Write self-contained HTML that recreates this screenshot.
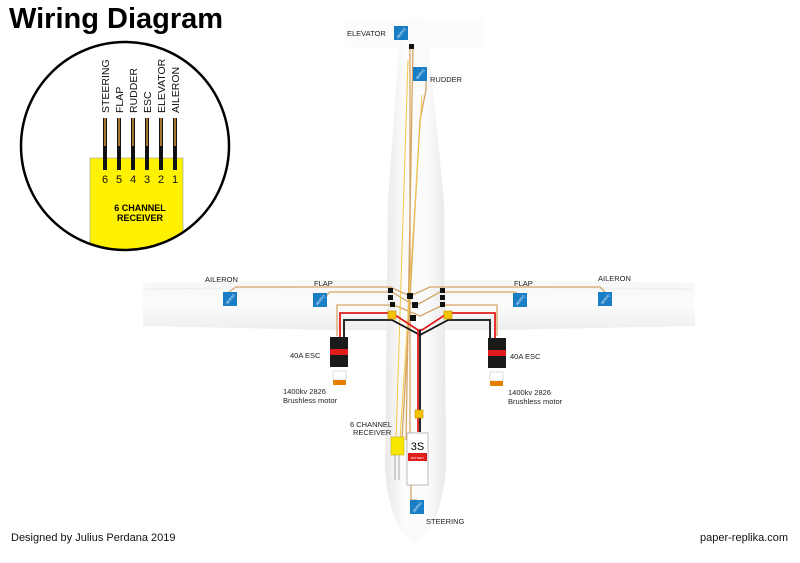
<!DOCTYPE html>
<html><head><meta charset="utf-8"><style>
html,body{margin:0;padding:0;background:#fff}
svg{display:block}
text{font-family:"Liberation Sans",sans-serif}
</style></head><body>
<svg width="800" height="563" viewBox="0 0 800 563" xmlns="http://www.w3.org/2000/svg">
<defs>
<linearGradient id="fus" x1="0" x2="1" y1="0" y2="0">
<stop offset="0" stop-color="#e9e9e9"/><stop offset="0.3" stop-color="#fbfbfb"/><stop offset="0.7" stop-color="#fbfbfb"/><stop offset="1" stop-color="#e9e9e9"/></linearGradient>
<linearGradient id="wing" x1="0" x2="0" y1="0" y2="1">
<stop offset="0" stop-color="#f6f6f6"/><stop offset="0.5" stop-color="#fcfcfc"/><stop offset="1" stop-color="#eeeeee"/></linearGradient>
<g id="servo"><rect x="-7" y="-7" width="14" height="14" fill="#1a7ec6"/><text x="0" y="1.5" font-size="3.5" fill="#fff" text-anchor="middle" transform="rotate(-50)">SERVO</text></g>
</defs>
<path d="M345 18 L485 18 L485 48 L345 48 Z" fill="#fcfcfc"/>
<path d="M143 283 L330 280 L500 280 L695 283 L695 326 L500 330 L330 330 L143 326 Z" fill="url(#wing)"/>
<line x1="145" y1="289" x2="330" y2="287" stroke="#eeeeee"/>
<line x1="500" y1="287" x2="693" y2="289" stroke="#eeeeee"/>
<path d="M410 18 Q400 18 398 60 L388 200 L385 470 Q390 530 415 545 Q440 530 446 470 L444 200 L430 60 Q428 18 418 18 Z" fill="url(#fus)"/>
<g fill="none" stroke="#d6a566" stroke-width="1.3">
<path d="M410 45 L410 440"/><path d="M413 45 L406 440"/>
<path d="M426 74 L426 90 L420 120 L402 440"/>
<path d="M229 292 L236 287 L390 287 L410 296 L430 287 L600 287 L605 292"/>
<path d="M326 296 L330 292 L392 292 L415 306 L440 292 L515 292 L520 296"/>
<path d="M337 336 L337 305 L394 305 L420 316 L443 305 L497 305 L497 336"/>
<path d="M411 455 L411 500 L417 500"/>
</g>
<g fill="none" stroke="#f0c84a" stroke-width="1">
<path d="M408 60 L396 440"/><path d="M422 95 L400 440"/>
</g>
<g fill="none" stroke="#aaa" stroke-width="1"><path d="M395 455 L395 480"/><path d="M399 455 L399 480"/></g>
<g fill="none" stroke-width="1.8">
<path d="M340 338 L340 313 L392 313 L418 330 L422 330 L448 313 L495 313 L495 338" stroke="#e01c1c"/>
<path d="M344 338 L344 320 L392 320 L420 335 L448 320 L490 320 L490 338" stroke="#111"/>
<path d="M420 330 L420 432" stroke="#111"/><path d="M418 330 L418 432" stroke="#e01c1c"/>
</g>
<g fill="#111">
<rect x="388" y="288" width="5" height="5"/><rect x="388" y="295" width="5" height="5"/><rect x="390" y="302" width="5" height="5"/>
<rect x="407" y="293" width="6" height="6"/><rect x="412" y="302" width="6" height="6"/><rect x="410" y="315" width="6" height="6"/>
<rect x="440" y="288" width="5" height="5"/><rect x="440" y="295" width="5" height="5"/><rect x="440" y="302" width="5" height="5"/>
<rect x="409" y="44" width="5" height="5"/>
</g>
<g fill="#f5c400" stroke="#c08a00" stroke-width="0.6">
<rect x="388" y="311" width="8" height="8"/><rect x="444" y="311" width="8" height="8"/><rect x="415" y="410" width="8" height="8"/>
</g>
<rect x="330" y="337" width="18" height="30" fill="#1a1a1a"/><rect x="330" y="349" width="18" height="6" fill="#e01c1c"/>
<rect x="488" y="338" width="18" height="30" fill="#1a1a1a"/><rect x="488" y="350" width="18" height="6" fill="#e01c1c"/>
<rect x="333" y="371" width="13" height="9" fill="#fff" stroke="#bbb" stroke-width="0.5"/><rect x="333" y="380" width="13" height="5" fill="#e67e00"/>
<rect x="490" y="372" width="13" height="9" fill="#fff" stroke="#bbb" stroke-width="0.5"/><rect x="490" y="381" width="13" height="5" fill="#e67e00"/>
<rect x="391" y="437" width="13" height="18" fill="#f7e600" stroke="#b9a700" stroke-width="0.5"/>
<rect x="407" y="433" width="21" height="52" fill="#fff" stroke="#aaa" stroke-width="0.8"/>
<rect x="408" y="453" width="19" height="8" fill="#e01c1c"/>
<text x="417.5" y="450" font-size="11" text-anchor="middle">3S</text>
<text x="417.5" y="459" font-size="3" fill="#fff" text-anchor="middle">BATTERY</text>
<use href="#servo" x="230" y="299"/><use href="#servo" x="320" y="300"/><use href="#servo" x="520" y="300"/><use href="#servo" x="605" y="299"/>
<use href="#servo" x="401" y="33"/><use href="#servo" x="420" y="74"/><use href="#servo" x="417" y="507"/>
<g font-size="7.5" fill="#222">
<text x="347" y="36">ELEVATOR</text><text x="430" y="82">RUDDER</text>
<text x="205" y="282">AILERON</text><text x="314" y="286">FLAP</text>
<text x="514" y="286">FLAP</text><text x="598" y="281">AILERON</text>
<text x="290" y="358">40A ESC</text><text x="510" y="359">40A ESC</text>
<text x="283" y="394">1400kv 2826</text><text x="283" y="403">Brushless motor</text>
<text x="508" y="395">1400kv 2826</text><text x="508" y="404">Brushless motor</text>
<text x="350" y="427">6 CHANNEL</text><text x="353" y="435">RECEIVER</text>
<text x="426" y="524">STEERING</text>
</g>
<text x="11" y="541" font-size="11" fill="#111">Designed by Julius Perdana 2019</text>
<text x="700" y="541" font-size="11" fill="#111">paper-replika.com</text>
<text x="9" y="28" font-size="29" font-weight="bold" fill="#000">Wiring Diagram</text>
<clipPath id="cc"><circle cx="125" cy="146" r="103"/></clipPath>
<circle cx="125" cy="146" r="104" fill="#fff"/>
<rect x="90" y="158" width="93" height="100" fill="#fff200" stroke="#999" stroke-width="0.6" clip-path="url(#cc)"/>
<g stroke-width="4" stroke="#111"><line x1="105" y1="118" x2="105" y2="170"/><line x1="119" y1="118" x2="119" y2="170"/><line x1="133" y1="118" x2="133" y2="170"/><line x1="147" y1="118" x2="147" y2="170"/><line x1="161" y1="118" x2="161" y2="170"/><line x1="175" y1="118" x2="175" y2="170"/></g>
<g stroke-width="1.4" stroke="#e8a040"><line x1="105" y1="118" x2="105" y2="146"/><line x1="119" y1="118" x2="119" y2="146"/><line x1="133" y1="118" x2="133" y2="146"/><line x1="147" y1="118" x2="147" y2="146"/><line x1="161" y1="118" x2="161" y2="146"/><line x1="175" y1="118" x2="175" y2="146"/></g>
<circle cx="125" cy="146" r="104" fill="none" stroke="#000" stroke-width="2.5"/>
<g font-size="10.5" fill="#111">
<text transform="translate(109,113) rotate(-90)">STEERING</text>
<text transform="translate(123,113) rotate(-90)">FLAP</text>
<text transform="translate(137,113) rotate(-90)">RUDDER</text>
<text transform="translate(151,113) rotate(-90)">ESC</text>
<text transform="translate(165,113) rotate(-90)">ELEVATOR</text>
<text transform="translate(179,113) rotate(-90)">AILERON</text>
</g>
<g font-size="11" fill="#111" text-anchor="middle">
<text x="105" y="183">6</text><text x="119" y="183">5</text><text x="133" y="183">4</text><text x="147" y="183">3</text><text x="161" y="183">2</text><text x="175" y="183">1</text>
</g>
<text x="140" y="211" font-size="9" font-weight="bold" text-anchor="middle">6 CHANNEL</text>
<text x="140" y="221" font-size="9" font-weight="bold" text-anchor="middle">RECEIVER</text>
</svg>
</body></html>
